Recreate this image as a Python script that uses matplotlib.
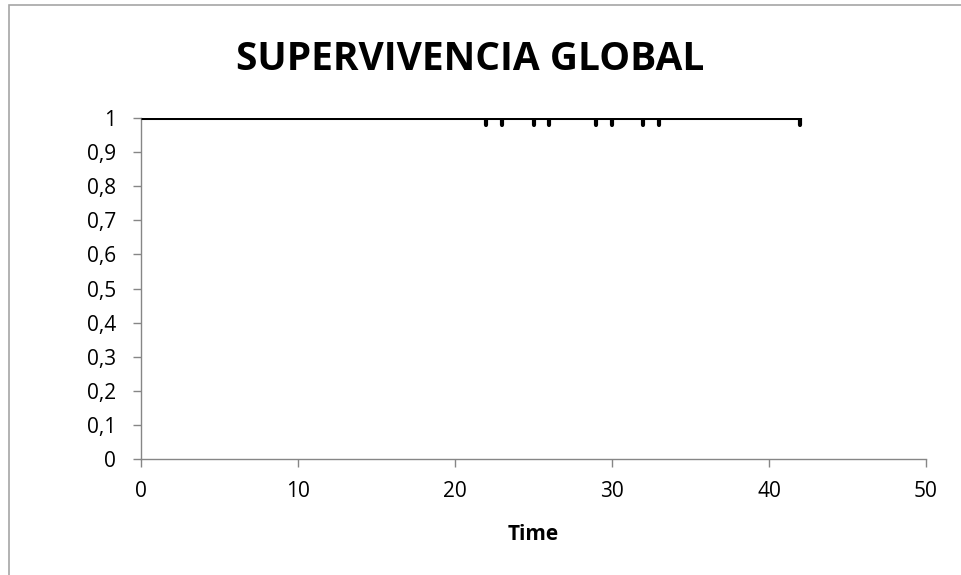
import numpy as np
import matplotlib
matplotlib.use('Agg')
import matplotlib.pyplot as plt
from matplotlib.patches import Rectangle

# survival curve data
times = [0, 42]
survival = [1, 1]
censored_times = [22, 23, 25, 26, 29, 30, 32, 33, 42]
censored_surv = [1] * len(censored_times)
xticks = [0, 10, 20, 30, 40, 50]
yticks = [0, 0.1, 0.2, 0.3, 0.4, 0.5, 0.6, 0.7, 0.8, 0.9, 1]
ytick_labels = ['0', '0,1', '0,2', '0,3', '0,4', '0,5', '0,6', '0,7', '0,8', '0,9', '1']

plt.rcParams['font.family'] = ['Open Sans', 'DejaVu Sans']

fig = plt.figure(figsize=(9.61, 5.75), dpi=100)
ax = fig.add_axes([141/961, 1 - 459/575, (926 - 141)/961, (459 - 118)/575])

ax.step(times, survival, where='post', color='black', lw=2.2, solid_capstyle='butt', zorder=3)
for t, s in zip(censored_times, censored_surv):
    ax.plot([t, t], [s, s - 0.021], color='black', lw=3, solid_capstyle='round', zorder=3)

ax.set_xlim(0, 50)
ax.set_ylim(0, 1)
ax.set_xticks(xticks)
ax.set_yticks(yticks)
ax.set_yticklabels(ytick_labels)
ax.tick_params(axis='both', colors='#868686', labelcolor='black', labelsize=15, length=6, width=1)
ax.tick_params(axis='x', pad=10)
ax.tick_params(axis='y', pad=12)
for side in ['top', 'right']:
    ax.spines[side].set_visible(False)
for side in ['left', 'bottom']:
    ax.spines[side].set_color('#868686')
    ax.spines[side].set_linewidth(1)

fig.text(533/961, 1 - 534/575, 'Time', ha='center', va='center', fontsize=15, fontweight='bold')
fig.text(470/961, 1 - 59/575, 'SUPERVIVENCIA GLOBAL', ha='center', va='center',
         fontsize=28, fontweight='bold')

fig.patches.append(Rectangle((9/961, -0.1), 1.2, 1 - 5/575 + 0.1, transform=fig.transFigure,
                             fill=False, edgecolor='#a6a6a6', lw=1.2))

fig.savefig('out.png', dpi=100)
